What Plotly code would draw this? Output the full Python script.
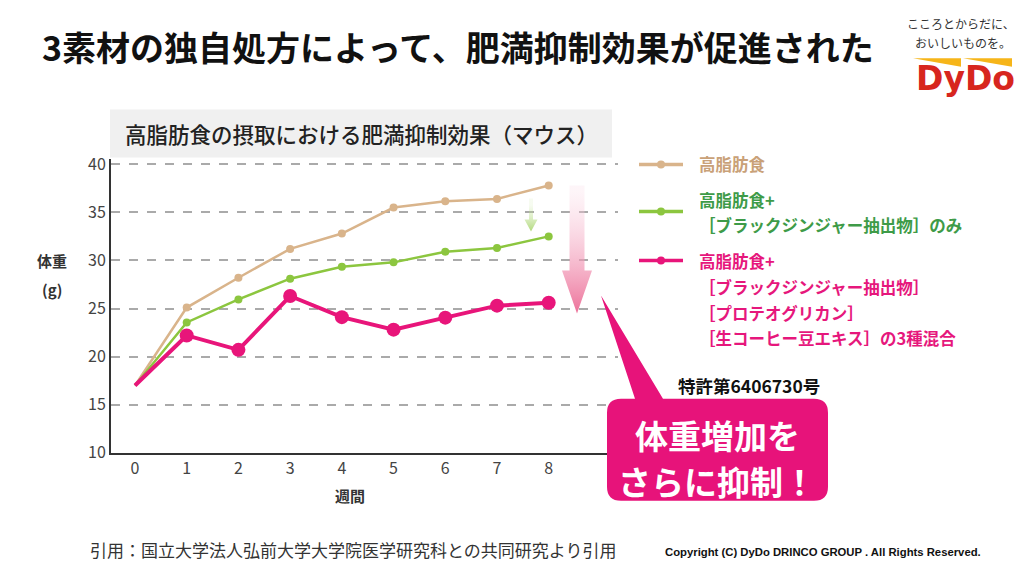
import plotly.graph_objects as go

# ---------------- data ----------------
weeks = [0, 1, 2, 3, 4, 5, 6, 7, 8]
hfd = [17.0, 25.1, 28.2, 31.2, 32.8, 35.5, 36.15, 36.4, 37.8]
hfd_bg = [17.0, 23.55, 25.95, 28.1, 29.35, 29.8, 30.9, 31.3, 32.5]
hfd_mix = [17.0, 22.2, 20.7, 26.3, 24.1, 22.8, 24.05, 25.3, 25.6]
y_ticks = [10, 15, 20, 25, 30, 35, 40]

series_names = ["高脂肪食", "高脂肪食+［ブラックジンジャー抽出物］のみ", "高脂肪食+3種混合"]
legend_lines = [
    ["高脂肪食"],
    ["高脂肪食+", "［ブラックジンジャー抽出物］のみ"],
    ["高脂肪食+", "［ブラックジンジャー抽出物］", "［プロテオグリカン］", "［生コーヒー豆エキス］の3種混合"],
]
main_title = "3素材の独自処方によって、肥満抑制効果が促進された"
chart_title = "高脂肪食の摂取における肥満抑制効果（マウス）"
x_title = "週間"
y_title = ["体重", "(g)"]
patent = "特許第6406730号"
callout = ["体重増加を", "さらに抑制！"]
source = "引用：国立大学法人弘前大学大学院医学研究科との共同研究より引用"
copyright_txt = "Copyright (C) DyDo DRINCO GROUP . All Rights Reserved."
slogan = ["こころとからだに、", "おいしいものを。"]

# ---------------- style ----------------
W, H = 1024, 576
FONT = "Noto Sans CJK JP"
TAN, GREEN, PINK = "#d9b48b", "#8cc63f", "#e8157a"
TAN_TXT, GREEN_TXT, PINK_TXT = "#c9a178", "#3e9b48", "#e6177c"

# vertical calibration of the rendered page
VS, VO = 0.966, 9.7


def px(x):
    return x / W


def py(y):
    return 1 - ((y - VO) / VS) / H


def yi(y):
    # reference pixel -> overlay axis units
    return H - (y - VO) / VS


fig = go.Figure()


def series(yvals, name, color, lw, ms):
    return go.Scatter(x=weeks, y=yvals, mode="lines+markers", name=name,
                      line=dict(color=color, width=lw),
                      marker=dict(color=color, opacity=1, line=dict(width=0),
                                  size=[0] + [ms] * (len(weeks) - 1)))


fig.add_trace(series(hfd, series_names[0], TAN, 2.5, 8))
fig.add_trace(series(hfd_bg, series_names[1], GREEN, 2.5, 8))
fig.add_trace(series(hfd_mix, series_names[2], PINK, 4, 14))


# ---------- decorative arrows on a pixel overlay axis ----------
def arrow(xc, y_top, y_head, y_tip, shaft_w, head_w, col_top, col_bot):
    xs = [xc - shaft_w / 2, xc + shaft_w / 2, xc + shaft_w / 2, xc + head_w / 2, xc,
          xc - head_w / 2, xc - shaft_w / 2, xc - shaft_w / 2]
    ys = [yi(v) for v in [y_top, y_top, y_head, y_head, y_tip, y_head, y_head, y_top]]
    return go.Scatter(x=xs, y=ys, mode="lines", fill="toself", line=dict(width=0),
                      fillgradient=dict(type="vertical", start=yi(y_tip), stop=yi(y_top),
                                        colorscale=[[0, col_bot], [1, col_top]]),
                      xaxis="x2", yaxis="y2", showlegend=False, hoverinfo="skip")


fig.add_trace(arrow(577, 187, 272, 315, 15, 30, "rgba(250,215,228,0.25)", "rgba(234,95,140,1)"))
fig.add_trace(arrow(531, 200, 221, 233, 4, 13, "rgba(200,230,160,0.15)", "rgba(140,198,63,0.95)"))

shapes = []
# chart title box
shapes.append(dict(type="rect", xref="paper", yref="paper", x0=px(110), x1=px(612),
                   y0=py(159), y1=py(111), fillcolor="#f0f0f0", line=dict(width=0), layer="below"))


def P(x, y):
    return f"{px(x):.5f},{py(y):.5f}"


# callout bubble
bx0, bx1, by0, by1, r = 607, 828, 400, 502, 14
path = (f"M {P(bx0 + r, by0)} L {P(635, by0)} L {P(601, 297)} L {P(663, by0)} "
        f"L {P(bx1 - r, by0)} Q {P(bx1, by0)} {P(bx1, by0 + r)} "
        f"L {P(bx1, by1 - r)} Q {P(bx1, by1)} {P(bx1 - r, by1)} "
        f"L {P(bx0 + r, by1)} Q {P(bx0, by1)} {P(bx0, by1 - r)} "
        f"L {P(bx0, by0 + r)} Q {P(bx0, by0)} {P(bx0 + r, by0)} Z")
shapes.append(dict(type="path", xref="paper", yref="paper", path=path,
                   fillcolor="#e7137a", line=dict(width=0)))

# legend samples
leg_y = [166, 213, 262]
leg_cols = [TAN, GREEN, PINK]
for yy, cc in zip(leg_y, leg_cols):
    shapes.append(dict(type="line", xref="paper", yref="paper", x0=px(639), x1=px(683),
                       y0=py(yy), y1=py(yy), line=dict(color=cc, width=3.5)))
    shapes.append(dict(type="circle", xref="paper", yref="paper", x0=px(657), x1=px(665),
                       y0=py(yy + 4), y1=py(yy - 4), fillcolor=cc, line=dict(width=0)))

# logo wedges
for xa, xb in [(913, 961), (963, 1012)]:
    shapes.append(dict(type="path", xref="paper", yref="paper",
                       path=f"M {P(xa, 60)} L {P(xb, 60)} L {P(xb, 68.5)} Z",
                       fillcolor="#f6b519", line=dict(width=0)))

ann = []


def T(x, y, text, size, color, xanchor="left", weight="normal", family=FONT):
    ann.append(dict(x=px(x), y=py(y), xref="paper", yref="paper", text=text, showarrow=False,
                    xanchor=xanchor, yanchor="middle",
                    font=dict(size=size, color=color, family=family, weight=weight)))


T(40, 48, main_title, 34, "#111111", weight="bold")
T(361, 135, chart_title, 21.5, "#222222", xanchor="center", weight=500)
T(52, 262, y_title[0], 15, "#333333", xanchor="center", weight="bold")
T(52, 291, y_title[1], 15, "#333333", xanchor="center", weight="bold")
T(350, 497, x_title, 15, "#333333", xanchor="center", weight="bold")

leg_txt_cols = [TAN_TXT, GREEN_TXT, PINK_TXT]
leg_txt_y = [[166], [201, 226], [262, 288, 314, 339]]
for lines, ys, col in zip(legend_lines, leg_txt_y, leg_txt_cols):
    for t, yy in zip(lines, ys):
        T(697, yy, t, 16.5, col, weight="bold")

T(676, 387, patent, 17.5, "#111111", weight="bold")
T(717, 436, callout[0], 33, "#ffffff", xanchor="center", weight="bold")
T(717, 482, callout[1], 33, "#ffffff", xanchor="center", weight="bold")
T(88, 551, source, 17, "#333333")
T(663, 553, copyright_txt, 11.3, "#111111", weight="bold", family="Liberation Sans")
T(1017, 25, slogan[0], 12, "#333333", xanchor="right")
T(1013, 44, slogan[1], 12, "#333333", xanchor="right")
T(965, 80, "DyDo", 33, "#d7261e", xanchor="center", weight="bold", family="DejaVu Sans")

fig.update_layout(
    width=W, height=H, margin=dict(l=0, r=0, t=0, b=0),
    paper_bgcolor="white", plot_bgcolor="rgba(0,0,0,0)",
    showlegend=False,
    font=dict(family=FONT),
    xaxis=dict(domain=[px(111), px(618)], range=[-0.464, 9.34], tickvals=weeks,
               showline=True, linecolor="#333333", linewidth=2, showgrid=False, zeroline=False,
               ticks="", tickfont=dict(size=16, color="#444444"), fixedrange=True),
    yaxis=dict(domain=[py(454), py(161)], range=[10, 40.5], tickvals=y_ticks,
               showline=True, linecolor="#333333", linewidth=2, showgrid=True,
               gridcolor="#aaaaaa", griddash="dash", gridwidth=1.5, zeroline=False,
               ticks="", tickfont=dict(size=16, color="#444444"), fixedrange=True),
    xaxis2=dict(domain=[0, 1], range=[0, W], visible=False, anchor="y2", fixedrange=True),
    yaxis2=dict(domain=[0, 1], range=[0, H], visible=False, anchor="x2", fixedrange=True),
    shapes=shapes, annotations=ann,
)

fig.write_html("out.html", config={"displayModeBar": False},
               post_script="document.body.style.margin='0';document.body.style.overflow='hidden';")
